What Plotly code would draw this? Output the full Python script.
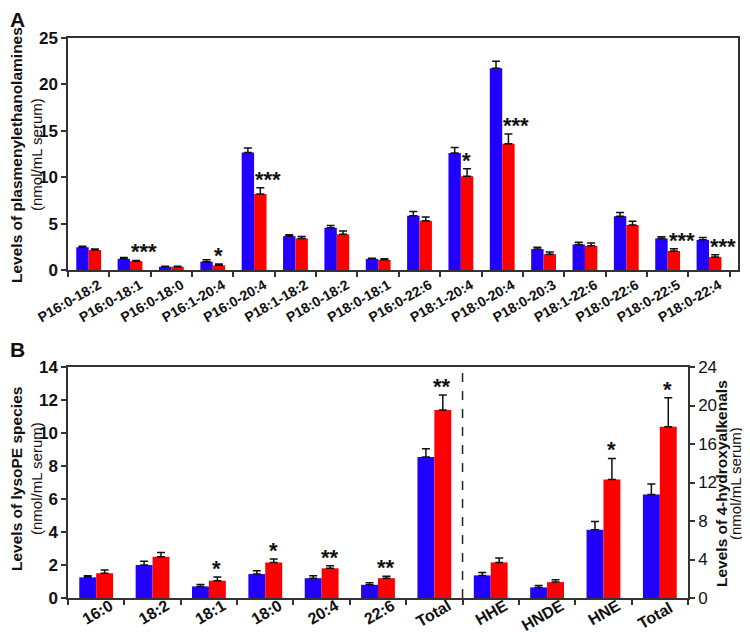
import plotly.graph_objects as go

BLUE = "#2200ff"
RED = "#ff0000"
FONT = "Liberation Sans, Arial, sans-serif"

# panel A: plasmenylethanolamines (nmol/mL serum)
pe_species = ["P16:0-18:2", "P16:0-18:1", "P16:0-18:0", "P16:1-20:4", "P16:0-20:4",
              "P18:1-18:2", "P18:0-18:2", "P18:0-18:1", "P16:0-22:6", "P18:1-20:4",
              "P18:0-20:4", "P18:0-20:3", "P18:1-22:6", "P18:0-22:6", "P18:0-22:5",
              "P18:0-22:4"]
pe_blue = [2.45, 1.2, 0.35, 0.9, 12.65, 3.65, 4.55, 1.2, 5.85, 12.6, 21.75, 2.25, 2.75, 5.8, 3.4, 3.25]
pe_blue_err = [0.12, 0.15, 0.05, 0.2, 0.5, 0.15, 0.25, 0.06, 0.45, 0.6, 0.75, 0.2, 0.25, 0.4, 0.17, 0.25]
pe_red = [2.15, 0.95, 0.35, 0.5, 8.2, 3.4, 3.85, 1.1, 5.3, 10.1, 13.6, 1.7, 2.6, 4.85, 2.05, 1.4]
pe_red_err = [0.1, 0.08, 0.05, 0.15, 0.65, 0.2, 0.35, 0.1, 0.4, 0.8, 1.05, 0.25, 0.3, 0.4, 0.25, 0.25]
pe_sig = ["", "***", "", "*", "***", "", "", "", "", "*", "***", "", "", "", "***", "***"]

# panel B left: lysoPE species
lyso_species = ["16:0", "18:2", "18:1", "18:0", "20:4", "22:6", "Total"]
lyso_blue = [1.25, 2.0, 0.7, 1.45, 1.2, 0.8, 8.55]
lyso_blue_err = [0.1, 0.22, 0.12, 0.2, 0.15, 0.12, 0.5]
lyso_red = [1.5, 2.5, 1.05, 2.15, 1.8, 1.2, 11.4]
lyso_red_err = [0.2, 0.25, 0.22, 0.22, 0.15, 0.12, 0.9]
lyso_sig = ["", "", "*", "*", "**", "**", "**"]

# panel B right: 4-hydroxyalkenals (right axis)
hae_species = ["HHE", "HNDE", "HNE", "Total "]
hae_blue = [2.35, 1.1, 7.1, 10.75]
hae_blue_err = [0.3, 0.2, 0.85, 1.1]
hae_red = [3.7, 1.65, 12.3, 17.8]
hae_red_err = [0.45, 0.25, 2.2, 3.0]
hae_sig = ["", "", "*", "*"]

b_cats = lyso_species + hae_species


def bar(x, y, err, color, xa, ya):
    return go.Bar(
        x=x, y=y, marker=dict(color=color, line=dict(width=0)),
        error_y=dict(type="data", symmetric=False, array=err, arrayminus=[0] * len(err),
                     color="#111", thickness=1.5, width=4),
        xaxis=xa, yaxis=ya, showlegend=False,
    )


fig = go.Figure()
fig.add_trace(bar(pe_species, pe_blue, pe_blue_err, BLUE, "x", "y"))
fig.add_trace(bar(pe_species, pe_red, pe_red_err, RED, "x", "y"))
fig.add_trace(bar(lyso_species, lyso_blue, lyso_blue_err, BLUE, "x2", "y2"))
fig.add_trace(bar(lyso_species, lyso_red, lyso_red_err, RED, "x2", "y2"))
fig.add_trace(bar(hae_species, hae_blue, hae_blue_err, BLUE, "x2", "y3"))
fig.add_trace(bar(hae_species, hae_red, hae_red_err, RED, "x2", "y3"))

W, H = 750, 632


def px_x(v):
    return v / W


def px_y(v):
    return 1 - v / H


axis_common = dict(showline=True, linecolor="#333", linewidth=1.5, ticks="outside",
                   ticklen=5, tickwidth=1.5, tickcolor="#333", showgrid=False, zeroline=False,
                   automargin=False)
bold_tick = dict(tickprefix="<b>", ticksuffix="</b>")

fig.update_layout(
    width=W, height=H, margin=dict(l=0, r=0, t=0, b=0),
    plot_bgcolor="white", paper_bgcolor="white",
    barmode="group", bargap=0.4, bargroupgap=0,
    font=dict(family=FONT, color="#111"),
    xaxis=dict(axis_common, **bold_tick, domain=[px_x(60), px_x(730)], anchor="y", mirror=True,
               tickangle=-30, tickson="boundaries", ticklabelshift=10,
               categoryorder="array", categoryarray=pe_species,
               tickfont=dict(family=FONT, size=14, color="#111")),
    yaxis=dict(axis_common, **bold_tick, domain=[px_y(262), px_y(30)], anchor="x", mirror=True,
               range=[0, 25], dtick=5, tickfont=dict(family=FONT, size=17, color="#111")),
    xaxis2=dict(axis_common, **bold_tick, domain=[px_x(60), px_x(680)], anchor="y2", mirror=True,
                tickangle=-30, tickson="boundaries", ticklabelshift=14, ticklabelstandoff=-9,
                categoryorder="array", categoryarray=b_cats,
                tickfont=dict(family=FONT, size=16, color="#111")),
    yaxis2=dict(axis_common, **bold_tick, domain=[px_y(590), px_y(359)], anchor="x2",
                range=[0, 14], dtick=2, tickfont=dict(family=FONT, size=17, color="#111")),
    yaxis3=dict(axis_common, overlaying="y2", side="right", anchor="x2",
                range=[0, 24], dtick=4, tickfont=dict(family=FONT, size=17, color="#111")),
)

# dashed separator between lysoPE and 4-hydroxyalkenals
fig.add_shape(type="line", xref="x2", yref="y2 domain", x0=6.5, x1=6.5, y0=0, y1=1,
              line=dict(color="#222", width=1.5, dash="dash"))


def stars(cats, red, err, sig, xa, ya, shift_one, shift_many):
    for c, v, e, s in zip(cats, red, err, sig):
        if not s:
            continue
        fig.add_annotation(x=c, y=v + e, xref=xa, yref=ya, text=f"<b>{s}</b>", showarrow=False,
                           xanchor="center", yanchor="bottom",
                           xshift=shift_one if len(s) == 1 else shift_many, yshift=-6,
                           font=dict(family=FONT, size=22, color="#111"))


stars(pe_species, pe_red, pe_red_err, pe_sig, "x", "y", 6, 14)
stars(lyso_species, lyso_red, lyso_red_err, lyso_sig, "x2", "y2", 8, 8)
stars(hae_species, hae_red, hae_red_err, hae_sig, "x2", "y3", 8, 8)

# panel letters
for txt, y in [("A", -2), ("B", 328)]:
    fig.add_annotation(x=0, y=px_y(y), xref="paper", yref="paper", text=f"<b>{txt}</b>",
                       showarrow=False, xanchor="left", yanchor="top",
                       font=dict(family=FONT, size=21, color="#111"))

# axis titles: bold line + unit line
titles = [
    ("Levels of plasmenylethanolamines", 8, 28, 147),
    ("Levels of lysoPE species", 8, 28, 471),
    ("Levels of 4-hydroxyalkenals", 713, 727, 476),
]
for txt, x_main, x_unit, y in titles:
    fig.add_annotation(x=px_x(x_main), y=px_y(y), xref="paper", yref="paper",
                       text=f"<b>{txt}</b>", showarrow=False, textangle=-90,
                       xanchor="center", yanchor="middle",
                       font=dict(family=FONT, size=15.5, color="#111"))
    fig.add_annotation(x=px_x(x_unit), y=px_y(y), xref="paper", yref="paper",
                       text="(nmol/mL serum)", showarrow=False, textangle=-90,
                       xanchor="center", yanchor="middle",
                       font=dict(family=FONT, size=15, color="#111"))

fig.write_html("out.html")
